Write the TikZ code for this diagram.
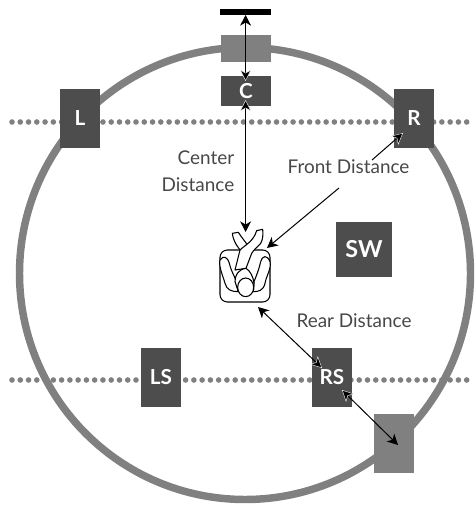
\documentclass[tikz,border=0pt]{standalone}
\usepackage{fontspec}
\setmainfont{Lato}
\usetikzlibrary{arrows.meta}
\definecolor{ringgray}{HTML}{808080}
\definecolor{darkbox}{HTML}{4D4D4D}
\newcommand{\lowtxt}[1]{\raisebox{-2.2pt}{#1}}
\tikzset{
  x=0.75pt,y=-0.75pt,
  ring/.style={draw=ringgray,line width=5.6pt},
  dotline/.style={draw=ringgray,line width=4.2pt,line cap=round,dash pattern=on 0pt off 6.2pt},
  spk/.style={fill=darkbox,draw=none,text=white,font=\bfseries\fontsize{15.5}{15.5}\selectfont,inner sep=0pt,minimum width=30pt,minimum height=44.5pt},
  graybox/.style={fill=ringgray,draw=none,inner sep=0pt},
  lbl/.style={text=black!72,font=\fontsize{14.2}{20}\selectfont,inner sep=0pt},
  tipk/.tip={Stealth[length=8pt,width=8.2pt,inset=2.4pt,color=black,fill=black]},
  tiph/.tip={Stealth[length=8.5pt,width=8.6pt,inset=2.4pt,color=white,fill=black,line width=0.3pt]},
  conn/.style={draw=black,line width=0.75pt},
  pers/.style={draw=black,line width=0.8pt,fill=white,line join=round}
}
\begin{document}
\begin{tikzpicture}
\useasboundingbox (0,0) rectangle (475,505);
\draw[ring] (245,273.5) ellipse [x radius=225.5,y radius=226];
\coordinate (dl1) at (12,122); \coordinate (dr1) at (472,122);
\coordinate (dl2) at (12,380); \coordinate (dr2) at (472,380);
\draw[dotline] (dl1) -- (dr1);
\draw[dotline] (dl2) -- (dr2);
\node[graybox,minimum width=37.5pt,minimum height=20pt] (CC) at (246,48.5) {};
\node[graybox,minimum width=30pt,minimum height=44.5pt] (RR) at (394,443.5) {};
\node[fill=black,draw=none,inner sep=0pt,minimum width=38pt,minimum height=4.5pt] (bar) at (245.5,12) {};
\node[spk,minimum width=37.5pt,minimum height=22.5pt] (C) at (246,91) {C};
\node[spk] (L) at (80,118.5) {\lowtxt{L}};
\node[spk] (R) at (414,118.5) {\lowtxt{R}};
\node[spk] (LS) at (161,377.5) {\lowtxt{LS}};
\node[spk] (RS) at (332,377.5) {\lowtxt{RS}};
\node[spk,minimum width=42pt,minimum height=41pt,font=\bfseries\fontsize{17.5}{17.5}\selectfont] (SW) at (364,249.5) {SW};
\node[lbl,anchor=east,align=right] (cd) at (234.5,171.5) {Center\\Distance};
\node[lbl] (fd) at (348.5,167) {Front Distance};
\node[lbl] (rd) at (354,321) {Rear Distance};
% listener
\begin{scope}
\draw[pers,rounded corners=5.5pt] (220,250) rectangle (270,302);
\begin{scope}[shift={(190,200)},x=0.25pt,y=-0.25pt]
\draw[pers] (127,100) -- (145,97) .. controls (152,108) and (160,118) .. (175,138) -- (155,155) .. controls (145,145) and (130,125) .. (127,100) -- cycle;
\draw[pers] (200,92) -- (218,88) .. controls (220,105) and (218,120) .. (212,130) .. controls (200,142) and (190,152) .. (185,160) -- (168,205) -- (135,210) -- (150,150) .. controls (165,135) and (190,125) .. (200,92) -- cycle;
\draw[pers] (90,180) .. controls (100,165) and (112,170) .. (118,190) .. controls (122,210) and (132,225) .. (137,240) -- (145,275) .. controls (125,275) and (110,270) .. (105,250) .. controls (100,230) and (85,200) .. (90,180) -- cycle;
\draw[pers] (240,185) .. controls (232,165) and (218,165) .. (212,185) .. controls (208,205) and (200,225) .. (192,245) -- (190,275) .. controls (205,275) and (220,272) .. (225,250) .. controls (228,230) and (245,205) .. (240,185) -- cycle;
\draw[pers] (135,245) .. controls (135,225) and (145,208) .. (168,205) .. controls (180,212) and (190,230) .. (192,250) -- (190,275) -- (145,275) -- cycle;
\draw[pers] (167,262) ellipse [x radius=24,y radius=28];
\end{scope}
\end{scope}
% connectors
\coordinate (a1) at (245.6,15); \coordinate (a2) at (245.6,81);
\coordinate (b1) at (245.6,100); \coordinate (b2) at (245.6,232);
\coordinate (c1) at (372,160); \coordinate (c2) at (403,133);
\coordinate (d1) at (339,188); \coordinate (d2) at (267,248);
\coordinate (e1) at (258,307); \coordinate (e2) at (322,368);
\coordinate (f1) at (342,390); \coordinate (f2) at (398,445);
\draw[conn,{tipk}-{tiph}] (a1) -- (a2);
\draw[conn,{tiph}-{tipk}] (b1) -- (b2);
\draw[conn,-{tiph}] (c1) -- (c2);
\draw[conn,-{tipk}] (d1) -- (d2);
\draw[conn,{tipk}-{tiph}] (e1) -- (e2);
\draw[conn,{tiph}-{tipk}] (f1) -- (f2);
\end{tikzpicture}
\end{document}
